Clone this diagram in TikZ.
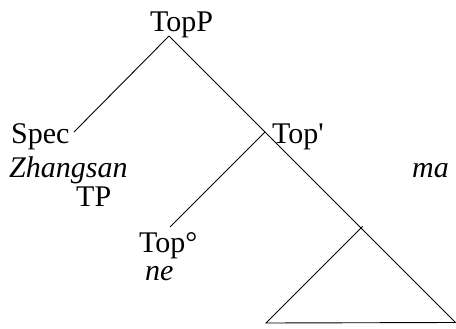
\documentclass[tikz,border=0pt]{standalone}
\usepackage{fontspec}
\setmainfont{Liberation Serif}[Ligatures=TeXOff]
\begin{document}
\begin{tikzpicture}[x=1pt,y=-1pt,
  lbl/.style={anchor=base west,inner sep=0pt,font=\fontsize{30}{36}\selectfont},
  ilbl/.style={lbl,font=\fontsize{30}{36}\selectfont\itshape},
  branch/.style={line width=0.9pt,black}]
\useasboundingbox (0,0) rectangle (456,329);
% labels
\node[lbl] (topp) at (150,32) {TopP};
\node[lbl] (spec) at (11,143) {Spec};
\node[lbl] (topbar) at (272,143) {Top'};
\node[ilbl] (zs) at (9,178) {Zhangsan};
\node[ilbl] (ma) at (412,178) {ma};
\node[lbl] (tp) at (76,207) {TP};
\node[lbl] (tophead) at (139,252) {Top°};
\node[ilbl] (ne) at (145,280) {ne};
% attachment points
\coordinate (apex) at (169,36);
\coordinate (specend) at (74,132);
\coordinate (bar) at (265,132);
\coordinate (headend) at (170,227);
\coordinate (tri) at (361,228);
\coordinate (triL) at (266,323);
\coordinate (triR) at (455.5,322.5);
% branches
\draw[branch] (apex) -- (specend);
\draw[branch] (apex) -- (bar) -- (tri) -- (triR);
\draw[branch] (bar) -- (headend);
\draw[branch] ([shift={(1.5,-1.5)}]tri) -- (triL) -- (triR);
\end{tikzpicture}
\end{document}
